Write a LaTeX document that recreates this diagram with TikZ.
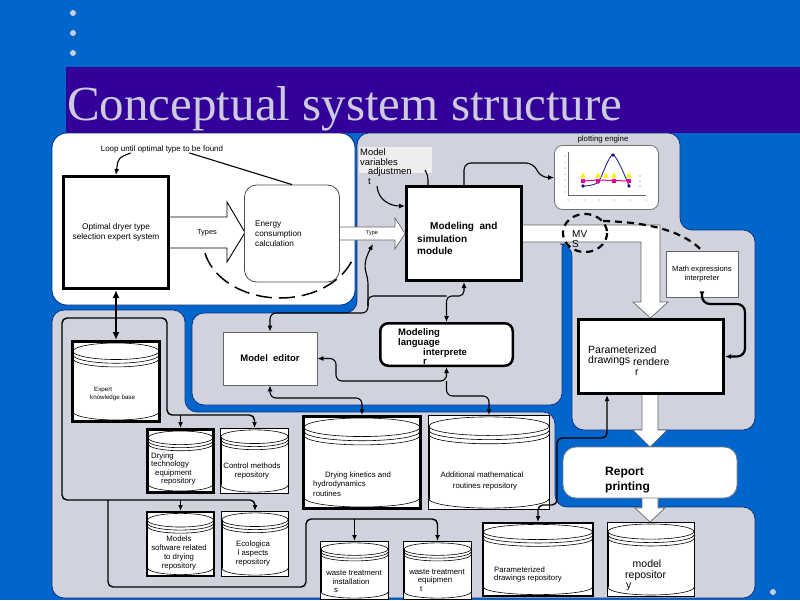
\documentclass[tikz,border=0pt]{standalone}
\usepackage{fontspec}
\setmainfont{Liberation Sans}
\newfontfamily\titlefont{Liberation Serif}
\usetikzlibrary{arrows.meta}
\definecolor{bgblue}{RGB}{0,102,204}
\definecolor{bandc}{RGB}{51,0,153}
\definecolor{titlec}{RGB}{204,204,222}
\definecolor{panelc}{RGB}{208,211,222}
\definecolor{pborder}{RGB}{10,40,120}
\definecolor{varc}{RGB}{238,238,238}
\definecolor{navyc}{RGB}{20,20,130}
\definecolor{dotc}{RGB}{200,205,222}

\newcommand\cylbox[6]{%
  \pgfmathsetmacro\cyW{#4-#2-#6}%
  \pgfmathsetmacro\cyH{#5-#3-#6}%
  \pgfmathsetmacro\cyCx{(#2+#4)/2}%
  \pgfmathsetmacro\cyCy{(#3+#5)/2}%
  \pgfmathsetmacro\cyRx{(#4-#2)/2-#6/2-0.7}%
  \pgfmathsetmacro\cyRy{0.085*(#5-#3)+1.2}%
  \pgfmathsetmacro\cyTy{#3+#6/2+1.5+\cyRy}%
  \pgfmathsetmacro\cyBy{#5-#6/2-1.5-\cyRy}%
  \pgfmathsetmacro\cyS{0.45*\cyRy}%
  \node[draw=black, fill=white, line width=#6pt, inner sep=0pt, minimum width=\cyW pt, minimum height=\cyH pt] (#1) at (\cyCx,\cyCy) {};
  \draw[cylline] plot[domain=0:360,samples=60,variable=\t] ({\cyCx+\cyRx*cos(\t)},{\cyTy+\cyRy*sin(\t)});
  \draw[cylline] plot[domain=0:180,samples=30,variable=\t] ({\cyCx+\cyRx*cos(\t)},{\cyTy+\cyS+\cyRy*sin(\t)});
  \draw[cylline] plot[domain=0:180,samples=30,variable=\t] ({\cyCx+\cyRx*cos(\t)},{\cyTy+2*\cyS+\cyRy*sin(\t)});
  \draw[cylline] ({\cyCx-\cyRx},{\cyTy}) -- ({\cyCx-\cyRx},{\cyBy});
  \draw[cylline] ({\cyCx+\cyRx},{\cyTy}) -- ({\cyCx+\cyRx},{\cyBy});
  \draw[cylline] plot[domain=0:180,samples=30,variable=\t] ({\cyCx+\cyRx*cos(\t)},{\cyBy+\cyRy*sin(\t)});
}

\begin{document}
\begin{tikzpicture}[x=1pt,y=-1pt,
  >={Latex[length=6pt,width=5pt]},
  conn/.style={line width=1.1pt},
  frame/.style={line width=1.4pt},
  cylline/.style={line width=0.6pt},
  fatarrow/.style={fill=white, draw=black!60, line width=0.7pt},
  lbl/.style={inner sep=0pt, anchor=west},
  clbl/.style={inner sep=0pt, align=center},
  panel/.style={fill=panelc, draw=pborder, line width=0.7pt},
  dashline/.style={line width=2.2pt, dash pattern=on 7pt off 5pt},
  fs8/.style={font=\fontsize{7.8}{9}\selectfont},
]
\useasboundingbox (0,0) rectangle (800,600);
\fill[bgblue] (0,0) rectangle (800,600);
\fill[bandc] (66,67) rectangle (800,133);
\foreach \yy in {13,33,53} \fill[dotc] (73,\yy) circle (3pt);
\fill[dotc] (773,592) circle (3pt);
\node[inner sep=0pt, anchor=base west, text=titlec, font=\titlefont\fontsize{49}{49}\selectfont] (title) at (67,120) {Conceptual system structure};

% panels
\filldraw[fill=white, draw=pborder, line width=0.8pt, rounded corners=15pt] (52,133) rectangle (355,305);
\filldraw[panel] (370,133) [rounded corners=12pt] -- (680,133) -- (680,230) -- (755,230) -- (755,430) -- (572,430) -- (572,244) [rounded corners=3pt] -- (562,244) [rounded corners=12pt] -- (562,405) -- (192,405) -- (192,313) -- (357,313) -- (357,133) -- (370,133);
\filldraw[panel] (120,310) [rounded corners=12pt] -- (185,310) -- (185,412) -- (555,412) -- (555,507) -- (755,507) -- (755,598) -- (52,598) -- (52,310) -- (120,310);

% dashed loop arc
\draw[line width=1.5pt, dash pattern=on 16pt off 7pt] plot[domain=22:170, samples=60, variable=\t] ({280+77*cos(\t)},{240+58*sin(\t)});

% fat arrows
\filldraw[fill=white, draw=black, line width=0.9pt] (168,217) -- (227,217) -- (227,202) -- (245,232.5) -- (227,262) -- (227,248) -- (168,248) -- cycle;
\filldraw[fatarrow] (338,227) -- (395,227) -- (395,218) -- (405,233.5) -- (395,249) -- (395,240) -- (338,240) -- cycle;
\filldraw[fatarrow] (520,225) -- (660,225) -- (660,302) -- (668,302) -- (650.5,318) -- (633,302) -- (641,302) -- (641,242) -- (520,242) -- cycle;
\filldraw[fatarrow] (642,392) -- (658,392) -- (658,430) -- (667,430) -- (650,447) -- (633,430) -- (642,430) -- cycle;
\filldraw[fatarrow] (642,496) -- (658,496) -- (658,508) -- (665,508) -- (650,522) -- (635,508) -- (642,508) -- cycle;

% main nodes
\node[draw, line width=3pt, fill=white, minimum width=105pt, minimum height=112pt, inner sep=0pt, align=center, font=\fontsize{8.3}{9.5}\selectfont] (opt) at (116,232.5) {Optimal dryer type\\selection expert system};
\node[draw=black!70, line width=0.8pt, fill=white, rounded corners=12pt, minimum width=95pt, minimum height=97pt, inner sep=0pt] (energy) at (292,233.5) {};
\node[draw, line width=3pt, fill=white, minimum width=115pt, minimum height=94pt, inner sep=0pt] (mod) at (464,233.5) {};
\node[fill=varc, minimum width=73pt, minimum height=26pt, inner sep=0pt] (varbox) at (395.5,160) {};
\node[draw=black!55, line width=0.8pt, fill=white, rounded corners=8pt, minimum width=104pt, minimum height=64pt, inner sep=0pt] (plot) at (606.5,177.5) {};
\node[draw=black!60, line width=0.8pt, fill=white, minimum width=72pt, minimum height=46pt, inner sep=0pt, align=center, font=\fontsize{7.6}{9}\selectfont] (mathi) at (702,274) {Math expressions\\interpreter};
\node[draw, line width=3pt, fill=white, minimum width=145pt, minimum height=74pt, inner sep=0pt] (rend) at (651,356.5) {};
\node[draw=black!50, line width=0.8pt, fill=white, rounded corners=13pt, minimum width=174pt, minimum height=51pt, inner sep=0pt] (report) at (650,472.5) {};
\node[draw=black!60, line width=0.8pt, fill=white, minimum width=94pt, minimum height=53pt, inner sep=0pt, font=\bfseries\fontsize{9.5}{11}\selectfont] (editor) at (270,358.5) {Model\ \ editor};
\node[draw, line width=2.5pt, fill=white, rounded corners=8pt, minimum width=132.5pt, minimum height=42.5pt, inner sep=0pt] (lang) at (446.5,344.5) {};

% cylinders
\cylbox{ekb}{71}{340}{161}{423}{3}
\cylbox{dtech}{146}{428}{215}{494}{3}
\cylbox{ctrl}{220}{428}{289}{494}{0.8}
\cylbox{dkin}{302}{415}{422}{510}{3}
\cylbox{addm}{428}{415}{550}{510}{0.8}
\cylbox{modsw}{146}{511}{215}{577}{1.8}
\cylbox{eco}{221}{511}{289}{577}{0.8}
\cylbox{wti}{320}{541}{389}{600}{0.8}
\cylbox{wte}{403}{541}{472}{600}{0.8}
\cylbox{pdr}{482}{522}{594}{597}{1.8}
\cylbox{mrep}{607}{522}{695}{597}{1}

% chart in plotting engine
\draw[black!60, line width=0.4pt] (568,152) -- (568,195) -- (646,195);
\foreach \yy in {156,162,168,174,180,186,192} \fill[black!70] (565,\yy) circle (0.5pt);
\foreach \xx in {568,584,599,614,630,646} \fill[black!70] (\xx,200) circle (0.5pt);
\draw[navyc, line width=0.8pt] plot[smooth] coordinates {(583,186) (598,182) (613,155) (629,186)};
\foreach \xx/\yy in {583/186,598/182,613/155,629/186} \fill[navyc] (\xx,\yy) circle (1.8pt);
\foreach \xx in {583,598,606,614,629} \fill[yellow] (\xx-2.8,177.5) -- (\xx+2.8,177.5) -- (\xx,172.5) -- cycle;
\draw[magenta, line width=1pt] (583,181) -- (598,180) -- (614,180.5) -- (629,181);
\foreach \xx in {583,598,614,629} \fill[magenta] (\xx-2,179) rectangle (\xx+2,183);
\foreach \yy in {176,181,186} \fill[black!70] (640,\yy) circle (0.6pt);

% texts
\node[inner sep=0pt, font=\fontsize{8}{9}\selectfont] (loop) at (162,149) {Loop until optimal type to be found};
\node[inner sep=0pt, font=\fontsize{7.4}{9}\selectfont] (typesT) at (207,233) {Types};
\node[inner sep=0pt, font=\fontsize{5.4}{6}\selectfont] (typeT) at (372,233.5) {Type};
\node[lbl, font=\fontsize{8.2}{9}\selectfont] (en1) at (255,225) {Energy};
\node[lbl, font=\fontsize{8.2}{9}\selectfont] (en2) at (255,234.5) {consumption};
\node[lbl, font=\fontsize{8.2}{9}\selectfont] (en3) at (255,244) {calculation};
\node[lbl, font=\fontsize{9.4}{11}\selectfont] (mv1) at (360,152) {Model};
\node[lbl, font=\fontsize{9.4}{11}\selectfont] (mv2) at (360,162) {variables};
\node[lbl, font=\fontsize{9.4}{11}\selectfont] (mv3) at (368,172) {adjustmen};
\node[lbl, font=\fontsize{9.4}{11}\selectfont] (mv4) at (368,181.5) {t};
\node[lbl, font=\bfseries\fontsize{10}{11}\selectfont] (mo1) at (430,227) {Modeling\ \ and};
\node[lbl, font=\bfseries\fontsize{10}{11}\selectfont] (mo2) at (417,239) {simulation};
\node[lbl, font=\bfseries\fontsize{10}{11}\selectfont] (mo3) at (417,251) {module};
\node[inner sep=0pt, font=\fontsize{7.8}{9}\selectfont] (plotT) at (603,139.5) {plotting engine};
\node[lbl, font=\fontsize{10}{11}\selectfont] (mvs1) at (572,234) {MV};
\node[lbl, font=\fontsize{10}{11}\selectfont] (mvs2) at (572,244) {S};
\node[lbl, font=\fontsize{10.5}{12}\selectfont] (re1) at (588,350) {Parameterized};
\node[lbl, font=\fontsize{10.5}{12}\selectfont] (re2) at (588,361) {drawings};
\node[lbl, font=\fontsize{10.5}{12}\selectfont] (re3) at (633,362) {rendere};
\node[lbl, font=\fontsize{10.5}{12}\selectfont] (re4) at (635,373) {r};
\node[lbl, font=\bfseries\fontsize{12}{14}\selectfont] (rp1) at (605,473) {Report};
\node[lbl, font=\bfseries\fontsize{12}{14}\selectfont] (rp2) at (605,487) {printing};
\node[lbl, font=\bfseries\fontsize{9.5}{11}\selectfont] (la1) at (398,333) {Modeling};
\node[lbl, font=\bfseries\fontsize{9.5}{11}\selectfont] (la2) at (398,343) {language};
\node[lbl, font=\bfseries\fontsize{9.5}{11}\selectfont] (la3) at (423,353) {interprete};
\node[lbl, font=\bfseries\fontsize{9.5}{11}\selectfont] (la4) at (423,362) {r};
\node[lbl, font=\fontsize{6.2}{7}\selectfont] (ek1) at (94,390) {Expert};
\node[lbl, font=\fontsize{6.2}{7}\selectfont] (ek2) at (90,398) {knowledge base};
\node[lbl, fs8] (dt1) at (151,456) {Drying};
\node[lbl, fs8] (dt2) at (151,464.5) {technology};
\node[lbl, fs8] (dt3) at (155,473) {equipment};
\node[lbl, fs8] (dt4) at (161,481.5) {repository};
\node[clbl, fs8] (ct1) at (252,470.5) {Control methods\\repository};
\node[clbl, fs8] (dk1) at (358,475) {Drying kinetics and};
\node[lbl, fs8] (dk2) at (313,484.5) {hydrodynamics};
\node[lbl, fs8] (dk3) at (313,494) {routines};
\node[clbl, fs8] (am1) at (482,475) {Additional mathematical};
\node[clbl, fs8] (am2) at (485,486.5) {routines repository};
\node[clbl, fs8] (ms1) at (179,552.5) {Models\\software related\\to drying\\repository};
\node[clbl, fs8] (ec1) at (253,553) {Ecologica\\l aspects\\repository};
\node[clbl, fs8] (wi1) at (354,573) {waste treatment};
\node[clbl, fs8] (wi2) at (351,581.5) {installation};
\node[lbl, fs8] (wi3) at (334,590) {s};
\node[clbl, fs8] (we1) at (437,572) {waste treatment};
\node[clbl, fs8] (we2) at (435,580.5) {equipmen};
\node[lbl, fs8] (we3) at (420,589) {t};
\node[lbl, fs8] (pd1) at (494,570) {Parameterized};
\node[lbl, fs8] (pd2) at (494,578.5) {drawings repository};
\node[inner sep=0pt, font=\fontsize{10.5}{12}\selectfont] (mr1) at (647,564) {model};
\node[lbl, font=\fontsize{10.5}{12}\selectfont] (mr2) at (625,575.5) {repositor};
\node[lbl, font=\fontsize{10.5}{12}\selectfont] (mr3) at (626,587) {y};

% connectors
\draw[conn, ->] ([xshift=30pt]loop.south west) .. controls (118,158) .. (opt.north);
\draw[conn] ([xshift=-34pt]loop.south east) -- (energy.north);
\draw[line width=2.6pt, {Latex[length=8pt,width=7pt]}-{Latex[length=8pt,width=7pt]}] (opt.south) -- (ekb.north);
\draw[frame, ->, rounded corners=5pt] (ekb.north |- 0,318) -- (62,318) -- (62,500) -- (eco.north |- 0,500) -- (eco.north);
\draw[frame, ->] (modsw.north |- 0,500) -- (modsw.north);
\draw[frame, ->, rounded corners=5pt] (ekb.north |- 0,318) -- (167,318) -- (167,415) -- (ctrl.north |- 0,415) -- (ctrl.north);
\draw[frame, ->] (dtech.north |- 0,415) -- (dtech.north);
\draw[frame, ->, rounded corners=5pt] (108,500) -- (108,587) -- (306,587) -- (306,519) -- (wte.north |- 0,519) -- (wte.north);
\draw[frame, ->] (wti.north |- 0,519) -- (wti.north);
\draw[frame, <->, rounded corners=5pt] (rend.south -| 607,0) -- (607,438) -- (557,438) -- (557,505) -- (pdr.north |- 0,505) -- (pdr.north);

\draw[conn, <->, rounded corners=5pt] (mod.south) -- (464,296) -- (lang.north |- 0,296) -- (lang.north);
\draw[conn, rounded corners=5pt] (lang.north |- 0,296) -- (368,296) -- (368,306);
\draw[conn, <->, rounded corners=6pt] (editor.north) -- (270,313) -- (368,313) -- (368,290) .. controls (368,272) and (360,268) .. (373,244);
\draw[conn, <->, rounded corners=6pt] (editor.east) -- (336,358.5) -- (336,381) -- (lang.south |- 0,381) -- (lang.south);
\draw[conn, ->, rounded corners=6pt] (lang.south |- 0,381) -- (446.5,396) -- (addm.north |- 0,396) -- (addm.north);
\draw[conn, <->, rounded corners=6pt] (editor.south) -- (270,398) -- (dkin.north |- 0,398) -- (dkin.north);

\draw[conn, ->] (377,186) .. controls (378,200) and (390,206) .. (mod.west |- 0,206);
\draw[conn] (425,170) .. controls (428,176) .. ([xshift=-36pt]mod.north);
\draw[conn, ->, rounded corners=7pt] (mod.north) -- (464,163) -- (533,163) -- (541,177.5) -- (plot.west);
\draw[line width=2.2pt, <->, rounded corners=8pt] (mathi.south) -- (702,304) -- (745,304) -- (745,356.5) -- (rend.east);

% MVS dashed ellipse and link
\draw[dashline] plot[domain=0:360, samples=60, variable=\t] ({585+22*cos(\t)},{233+19*sin(\t)});
\draw[dashline] (603,221) .. controls (640,222) and (680,228) .. (mathi.north);
\end{tikzpicture}
\end{document}
